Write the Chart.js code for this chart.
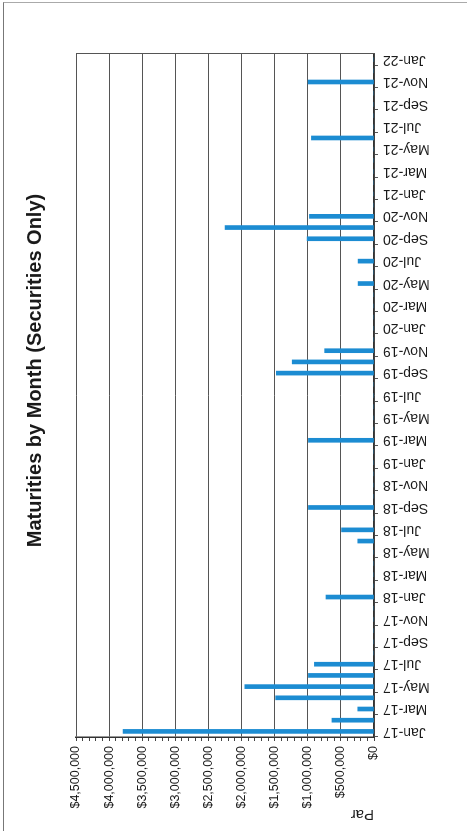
<!DOCTYPE html>
<html lang="en">
<head>
    <meta charset="UTF-8">
    <title>Maturities by Month</title>
    <script src="https://cdn.jsdelivr.net/npm/chart.js"></script>
    <style>
        html, body { margin: 0; padding: 0; background: #fff; }
        body { width: 467px; height: 831px; overflow: hidden; position: relative; }
        #page { position: absolute; left: 3px; top: 2px; right: 0; bottom: 0; border-left: 1px solid #777; border-top: 1px solid #aaa; }
        /* the chart was printed landscape and the page scanned sideways */
        #wrap { position: absolute; left: 0; top: 0; width: 831px; height: 467px;
                transform-origin: top left; transform: translate(0, 831px) rotate(-90deg); }
    </style>
</head>
<body>
    <div id="page"></div>
    <div id="wrap"><canvas id="chart" width="831" height="467"></canvas></div>

    <script>
        // months Jan-17 .. Jan-22
        const monthNames = ['Jan','Feb','Mar','Apr','May','Jun','Jul','Aug','Sep','Oct','Nov','Dec'];
        const months = [];
        for (let y = 17; y <= 22; y++) {
            for (let m = 0; m < 12; m++) {
                if (y === 22 && m > 0) break;
                months.push(monthNames[m] + '-' + y);
            }
        }

        // par maturing each month
        const par = [
            3790000, 635000, 245000, 1485000, 1950000, 990000, 900000, 0, 0, 0, 0, 0,   // 2017
            725000, 0, 0, 0, 0, 245000, 490000, 0, 990000, 0, 0, 0,                     // 2018
            0, 0, 990000, 0, 0, 0, 0, 0, 1475000, 1235000, 745000, 0,                   // 2019
            0, 0, 0, 0, 240000, 0, 240000, 0, 1010000, 2250000, 975000, 0,              // 2020
            0, 0, 0, 0, 0, 945000, 0, 0, 0, 0, 995000, 0,                               // 2021
            0                                                                           // Jan-22
        ];

        const yMax = 4500000;
        const yMajor = 500000;
        const yMinor = 100000;

        const font = 'Liberation Sans, Arial, sans-serif';
        const ctx = document.getElementById('chart');

        const chart = new Chart(ctx, {
            type: 'bar',
            data: {
                labels: months,
                datasets: [{
                    label: 'Par',
                    data: par,
                    backgroundColor: '#1c8cd2',
                    barThickness: 4
                }]
            },
            options: {
                responsive: false,
                animation: false,
                layout: { padding: { top: 0, left: 0, right: 54, bottom: 0 } },
                plugins: {
                    legend: { display: false },
                    tooltip: { enabled: false },
                    title: {
                        display: true,
                        // leading spaces nudge it off-centre like the printout
                        text: '\u2002\u2002\u2002\u2002\u2002Maturities by Month (Securities Only)',
                        fullSize: false,
                        color: '#1a1a1a',
                        font: { family: font, size: 20, weight: 'bold' },
                        padding: { top: 23, bottom: 29 }
                    }
                },
                scales: {
                    x: {
                        grid: {
                            drawOnChartArea: false,
                            tickLength: 4,
                            tickColor: (c) => (c.index % 2 === 0 ? '#555' : 'rgba(0,0,0,0)')
                        },
                        border: { color: '#333', width: 1.5 },
                        ticks: {
                            autoSkip: false,
                            minRotation: 90,
                            maxRotation: 90,
                            padding: 5,
                            color: '#1a1a1a',
                            font: { family: font, size: 14 },
                            callback: function (v, i) { return i % 2 === 0 ? months[i] : ''; }
                        },
                        afterFit: (s) => { s.height = 93; }
                    },
                    y: {
                        min: 0,
                        max: yMax,
                        grid: {
                            color: (c) => (Math.round(c.tick.value) % yMajor === 0 ? '#555' : 'rgba(0,0,0,0)'),
                            tickColor: '#444',
                            tickLength: 4
                        },
                        border: { color: '#333', width: 1.5 },
                        ticks: {
                            stepSize: yMinor,
                            autoSkip: false,
                            padding: 5,
                            color: '#1a1a1a',
                            font: { family: font, size: 12.5 },
                            callback: function (v) {
                                v = Math.round(v);
                                return v % yMajor === 0 ? '$' + v.toLocaleString('en-US') : '';
                            }
                        },
                        title: {
                            display: true,
                            text: 'Par',
                            align: 'start',
                            color: '#1a1a1a',
                            font: { family: font, size: 15 },
                            padding: { top: 8, bottom: 0 }
                        },
                        afterFit: (s) => { s.width = 94; }
                    },
                    // plain line closing the plot box on the far side
                    y2: {
                        position: 'right',
                        grid: { display: false },
                        ticks: { display: false },
                        border: { color: '#555', width: 1 },
                        afterFit: (s) => { s.width = 0; }
                    }
                }
            }
        });
    </script>
</body>
</html>
